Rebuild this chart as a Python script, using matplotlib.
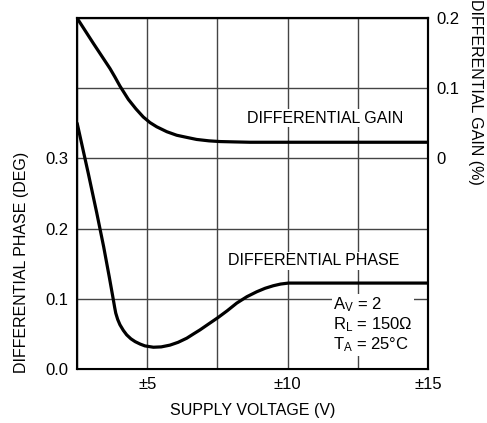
import matplotlib
matplotlib.use('Agg')
import matplotlib.pyplot as plt
from matplotlib import rcParams

rcParams['font.family'] = ['Liberation Sans', 'DejaVu Sans']
rcParams['mathtext.default'] = 'regular'
rcParams['font.size'] = 12

# supply voltage (±V) vs differential gain (%)
gain_v = [2.5, 3.08, 3.675, 3.85, 4.03, 4.33, 4.6, 4.86, 5.1, 5.34, 5.7, 6.05, 6.4, 6.76, 7.2, 7.59, 8.1, 8.66, 10.0, 12.5, 15.0]
gain_pct = [0.200, 0.164, 0.128, 0.116, 0.103, 0.084, 0.0705, 0.059, 0.051, 0.045, 0.038, 0.033, 0.030, 0.027, 0.025, 0.024, 0.0235, 0.023, 0.023, 0.023, 0.023]

# supply voltage (±V) vs differential phase (deg)
phase_v = [2.5, 2.9, 3.2, 3.45, 3.65, 3.79, 3.84, 3.88, 3.95, 4.03, 4.15, 4.27, 4.42, 4.57, 4.75, 4.92, 5.22,
           5.5, 5.81, 6.1, 6.41, 6.65, 6.88, 7.2, 7.53, 7.85, 8.19, 8.55, 8.9, 9.2, 9.49, 9.75, 10.03, 12.5, 15.0]
phase_deg = [0.351, 0.279, 0.223, 0.174, 0.131, 0.0996, 0.088, 0.0796, 0.0705, 0.063, 0.055, 0.0486, 0.043, 0.039, 0.0355, 0.0329, 0.031,
             0.0315, 0.034, 0.038, 0.0439, 0.050, 0.0557, 0.0645, 0.0735, 0.083, 0.0939, 0.103, 0.110, 0.115, 0.1186, 0.121, 0.1224, 0.1224, 0.1224]

x_ticks = [2.5, 5, 7.5, 10, 12.5, 15]
x_labels = ['', '±5', '', '±10', '', '±15']
y_ticks = [0, 0.1, 0.2, 0.3, 0.4, 0.5]
y_labels = ['0.0', '0.1', '0.2', '0.3', '', '']
gain_ticks = [0, 0.1, 0.2]
gain_labels = ['0', '0.1', '0.2']

fig = plt.figure(figsize=(4.87, 4.23), dpi=100)
ax = fig.add_axes([77/487, 1-369/423, 351/487, 351/423])
ax.set_xlim(2.5, 15)
ax.set_ylim(0, 0.5)
ax.set_xticks(x_ticks)
ax.set_xticklabels(x_labels)
ax.set_yticks(y_ticks)
ax.set_yticklabels(y_labels)
ax.tick_params(length=0, pad=6, labelsize=12)
ax.grid(True, color='#444444', linewidth=1)
for s in ax.spines.values():
    s.set_linewidth(1.5)

ax.plot(phase_v, phase_deg, color='black', linewidth=2.3, solid_capstyle='butt', solid_joinstyle='round')

ax2 = ax.twinx()
ax2.set_ylim(-0.3, 0.2)
ax2.set_yticks(gain_ticks)
ax2.set_yticklabels(gain_labels)
ax2.tick_params(length=0, pad=6, labelsize=12)
ax2.spines['right'].set_linewidth(1.5)
ax2.spines['top'].set_linewidth(1.5)
ax2.plot(gain_v, gain_pct, color='black', linewidth=2.3, solid_capstyle='butt', solid_joinstyle='round')

white = dict(facecolor='white', edgecolor='none', pad=1)
ax2.text(11.33, 0.057, 'DIFFERENTIAL GAIN', ha='center', va='center', fontsize=11.5, bbox=white)
ax.text(10.94, 0.154, 'DIFFERENTIAL PHASE', ha='center', va='center', fontsize=11.5, bbox=white)
ax.text(11.62, 0.063, 'A$_{V}$ = 2\nR$_{L}$ = 150Ω\nT$_{A}$ = 25°C', ha='left', va='center',
        fontsize=12, linespacing=1.1, bbox=white)

fig.text(22/487, 1-262/423, 'DIFFERENTIAL PHASE (DEG)', rotation=90, ha='center', va='center', fontsize=11.5)
fig.text(476/487, 1-92/423, 'DIFFERENTIAL GAIN (%)', rotation=-90, ha='center', va='center', fontsize=11.5)
fig.text(253/487, 1-410/423, 'SUPPLY VOLTAGE (V)', ha='center', va='center', fontsize=11.5)

fig.savefig('out.png', dpi=100)
